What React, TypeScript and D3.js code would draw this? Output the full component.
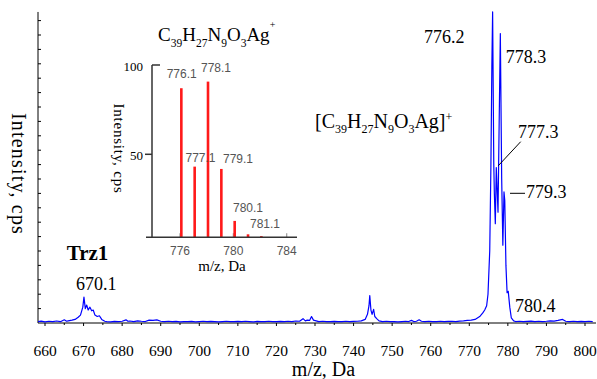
import * as d3 from "d3";
import { useEffect, useRef } from "react";

// main ESI spectrum, [m/z, intensity] (intensity in y-tick units)
const spectrum: [number, number][] = [
  [658.2, 0.1], [659, 0.13], [660, 0.08], [661, 0.12], [662, 0.1], [663, 0.14], [664, 0.09],
  [665, 0.22], [665.6, 0.12], [666, 0.15], [667, 0.2], [667.8, 0.25], [668.6, 0.4], [669.2, 0.55],
  [669.8, 1.1], [670.1, 1.8], [670.45, 1.0], [670.8, 1.25], [671.2, 0.9], [671.65, 1.1],
  [672.1, 0.85], [672.5, 0.9], [672.95, 0.55], [673.55, 0.45], [674.1, 0.5], [674.7, 0.25],
  [675.5, 0.12], [676, 0.1], [677, 0.08], [678, 0.11], [679, 0.1], [680, 0.12], [681, 0.22],
  [681.5, 0.12], [682, 0.14], [683, 0.1], [684, 0.15], [685, 0.12], [686, 0.1], [687, 0.2],
  [688, 0.18], [689, 0.22], [690, 0.12], [691, 0.1], [692, 0.12], [693, 0.09], [694, 0.11],
  [695, 0.08], [696, 0.1], [697, 0.09], [698, 0.11], [699, 0.08], [700, 0.1], [701, 0.12],
  [702, 0.09], [703, 0.11], [704, 0.1], [705, 0.08], [706, 0.1], [707, 0.12], [708, 0.09],
  [709, 0.1], [710, 0.11], [711, 0.09], [712, 0.12], [713, 0.1], [714, 0.08], [715, 0.11],
  [716, 0.09], [717, 0.1], [718, 0.12], [719, 0.1], [720, 0.09], [721, 0.11], [722, 0.1],
  [723, 0.12], [724, 0.1], [725, 0.14], [726, 0.12], [726.9, 0.3], [727.5, 0.15], [728, 0.2],
  [728.6, 0.18], [729.1, 0.45], [729.6, 0.2], [730.3, 0.15], [731, 0.1], [732, 0.12], [733, 0.09],
  [734, 0.1], [735, 0.11], [736, 0.09], [737, 0.1], [738, 0.12], [739, 0.1], [740, 0.11],
  [741, 0.12], [742, 0.15], [743, 0.25], [743.6, 0.6], [744.0, 1.2], [744.2, 1.9], [744.5, 0.9],
  [744.8, 0.6], [745.2, 0.95], [745.5, 0.45], [746, 0.3], [746.6, 0.15], [747.5, 0.1],
  [748.5, 0.12], [749.5, 0.09], [750.5, 0.1], [751.5, 0.08], [752.5, 0.1], [753.5, 0.12],
  [754.3, 0.1], [755, 0.18], [755.6, 0.1], [756.3, 0.12], [757, 0.22], [757.6, 0.12],
  [758.5, 0.1], [759.5, 0.12], [760.5, 0.09], [761.5, 0.1], [762.5, 0.12], [763.5, 0.1],
  [764.5, 0.11], [765.5, 0.12], [766.5, 0.1], [767.5, 0.13], [768.5, 0.15], [769.5, 0.18],
  [770.5, 0.2], [771.5, 0.25], [772.7, 0.45], [773.5, 0.7], [774.0, 0.9], [774.5, 1.2],
  [774.85, 2.0], [775.3, 5.0], [775.6, 10.8], [775.85, 17.8], [776.05, 21.6], [776.35, 11],
  [776.5, 9.0], [776.75, 6.9], [777.0, 10.8], [777.45, 7.7], [777.75, 14], [778.05, 20.1],
  [778.4, 10], [778.7, 5.4], [779.0, 9.1], [779.2, 8.5], [779.5, 4], [779.8, 2.1], [780.1, 2.2],
  [780.5, 1.1], [780.9, 0.35], [781.5, 0.15], [782, 0.1], [783, 0.12], [784, 0.09], [785, 0.11],
  [786, 0.13], [787, 0.1], [788, 0.12], [789, 0.1], [790, 0.12], [791, 0.15], [792, 0.13],
  [793, 0.18], [794.2, 0.25], [795, 0.12], [796, 0.1], [797, 0.12], [798, 0.09], [799, 0.11],
  [800, 0.1], [801, 0.12], [802, 0.1],
];

const xTicks = [660, 670, 680, 690, 700, 710, 720, 730, 740, 750, 760, 770, 780, 790, 800];

// simulated isotope pattern (inset)
const isoMz = [776.1, 777.1, 778.1, 779.1, 780.1, 781.1, 782.1];
const isoIntensity = [87, 43.1, 90.7, 41.8, 12.7, 5.2, 4.2];
const isoLabels = ["776.1", "777.1", "778.1", "779.1", "780.1", "781.1"];
const insetXTicks = [776, 780, 784];
const insetYTicks = [50, 100];

const peakLabels = ["776.2", "778.3", "777.3", "779.3", "780.4", "670.1"];

const SERIF = "'Liberation Serif', 'Times New Roman', serif";
const SANS = "'Liberation Sans', Arial, sans-serif";

type Part = { t: string; s?: "sub" | "sup" };
const formulaParts: Part[] = [
  { t: "C" }, { t: "39", s: "sub" }, { t: "H" }, { t: "27", s: "sub" }, { t: "N" },
  { t: "9", s: "sub" }, { t: "O" }, { t: "3", s: "sub" }, { t: "Ag" },
];

function drawFormula(
  g: d3.Selection<SVGGElement, unknown, null, undefined>,
  x: number,
  y: number,
  size: number,
  parts: Part[],
  sub: [number, number],
  sup: [number, number]
) {
  const text = g
    .append("text")
    .attr("x", x)
    .attr("y", y)
    .style("font-family", SERIF)
    .style("font-size", `${size}px`)
    .style("fill", "#000");
  let cur = 0;
  parts.forEach((p) => {
    const shift = p.s === "sub" ? sub[1] : p.s === "sup" ? -sup[1] : 0;
    const fs = p.s === "sub" ? sub[0] : p.s === "sup" ? sup[0] : size;
    text
      .append("tspan")
      .attr("dy", shift - cur)
      .style("font-size", `${fs}px`)
      .text(p.t);
    cur = shift;
  });
}

export default function App() {
  const ref = useRef<SVGSVGElement>(null);

  useEffect(() => {
    if (!ref.current) return;
    const svg = d3.select(ref.current);
    svg.selectAll("*").remove();

    const g = svg.append("g");

    // ---- main plot
    const x = d3.scaleLinear().domain([660, 800]).range([45, 585]);
    const y = d3.scaleLinear().domain([0, 21.6]).range([323, 11.96]);

    g.append("line")
      .attr("x1", 38).attr("x2", 38)
      .attr("y1", y(21.6)).attr("y2", y(0))
      .attr("stroke", "#000").attr("stroke-width", 1);
    g.append("line")
      .attr("x1", 38).attr("x2", 596)
      .attr("y1", y(0)).attr("y2", y(0))
      .attr("stroke", "#000").attr("stroke-width", 1);

    g.selectAll(".ytick")
      .data(d3.range(1, 22))
      .join("line")
      .attr("x1", 38).attr("x2", 41)
      .attr("y1", (d) => y(d)).attr("y2", (d) => y(d))
      .attr("stroke", "#000").attr("stroke-width", 1);

    const minor = d3.range(665, 800, 10);
    g.selectAll(".xminor")
      .data(minor)
      .join("line")
      .attr("x1", (d) => x(d)).attr("x2", (d) => x(d))
      .attr("y1", y(0)).attr("y2", y(0) + 2)
      .attr("stroke", "#000").attr("stroke-width", 1);
    g.selectAll(".xmajor")
      .data(xTicks)
      .join("line")
      .attr("x1", (d) => x(d)).attr("x2", (d) => x(d))
      .attr("y1", y(0)).attr("y2", y(0) + 3)
      .attr("stroke", "#000").attr("stroke-width", 1);

    g.selectAll(".xlabel")
      .data(xTicks)
      .join("text")
      .attr("x", (d) => x(d))
      .attr("y", 355.5)
      .attr("text-anchor", "middle")
      .style("font-family", SERIF)
      .style("font-size", "15.5px")
      .text((d) => d);

    g.append("text")
      .attr("x", 323.5).attr("y", 375.5)
      .attr("text-anchor", "middle")
      .style("font-family", SERIF).style("font-size", "20px")
      .text("m/z, Da");

    g.append("text")
      .attr("transform", "translate(11.7,174) rotate(90)")
      .attr("text-anchor", "middle")
      .style("font-family", SERIF).style("font-size", "20px")
      .style("letter-spacing", "1.2px")
      .text("Intensity, cps");

    const line = d3
      .line<[number, number]>()
      .x((d) => x(d[0]))
      .y((d) => y(d[1]));
    g.append("path")
      .datum(spectrum)
      .attr("d", line)
      .attr("fill", "none")
      .attr("stroke", "#0000ff")
      .attr("stroke-width", 1.2)
      .attr("stroke-linejoin", "round");

    // peak annotations
    const labelPos: [number, number][] = [
      [424, 43.3], [505.7, 63.3], [518, 138.3], [526, 198.3], [515, 311.7], [76, 290],
    ];
    g.selectAll(".plabel")
      .data(peakLabels)
      .join("text")
      .attr("x", (_, i) => labelPos[i][0])
      .attr("y", (_, i) => labelPos[i][1])
      .style("font-family", SERIF)
      .style("font-size", "18px")
      .text((d) => d);
    g.append("line")
      .attr("x1", 520.7).attr("y1", 141.7).attr("x2", 498.3).attr("y2", 165.7)
      .attr("stroke", "#000").attr("stroke-width", 1);
    g.append("line")
      .attr("x1", 510).attr("y1", 193.3).attr("x2", 525).attr("y2", 193.3)
      .attr("stroke", "#000").attr("stroke-width", 1);

    g.append("text")
      .attr("x", 66.7).attr("y", 260)
      .style("font-family", SERIF).style("font-size", "21px").style("font-weight", "bold")
      .text("Trz1");

    drawFormula(
      g, 315, 128.3, 20,
      [{ t: "[" }, ...formulaParts, { t: "]" }, { t: "+", s: "sup" }],
      [12, 5], [12, 7]
    );

    // ---- inset: isotope pattern
    const xi = d3.scaleLinear().domain([776, 784]).range([180, 286.7]);
    const yi = d3.scaleLinear().domain([50, 100]).range([154.3, 65]);
    const base = 237.3;

    drawFormula(g, 158, 40.7, 19, [...formulaParts, { t: "+", s: "sup" }], [11.5, 6], [10, 13]);

    g.selectAll(".itick")
      .data(insetXTicks)
      .join("line")
      .attr("x1", (d) => xi(d)).attr("x2", (d) => xi(d))
      .attr("y1", base - 4).attr("y2", base)
      .attr("stroke", "#999").attr("stroke-width", 1.2);

    g.selectAll(".bar")
      .data(isoMz)
      .join("rect")
      .attr("x", (d) => xi(d) - 1.3)
      .attr("width", 2.6)
      .attr("y", (_, i) => yi(isoIntensity[i]))
      .attr("height", (_, i) => base - yi(isoIntensity[i]))
      .attr("fill", "#ff1a1a");

    g.append("line")
      .attr("x1", 146).attr("x2", 297).attr("y1", base).attr("y2", base)
      .attr("stroke", "#333").attr("stroke-width", 1.5);
    g.append("line")
      .attr("x1", 152).attr("x2", 152).attr("y1", yi(100)).attr("y2", base)
      .attr("stroke", "#333").attr("stroke-width", 1.5);
    g.append("line")
      .attr("x1", 152).attr("x2", 160).attr("y1", yi(100)).attr("y2", yi(100))
      .attr("stroke", "#333").attr("stroke-width", 1.5);
    g.append("line")
      .attr("x1", 145).attr("x2", 152).attr("y1", yi(50)).attr("y2", yi(50))
      .attr("stroke", "#333").attr("stroke-width", 1.5);

    g.selectAll(".iylabel")
      .data(insetYTicks)
      .join("text")
      .attr("x", 143)
      .attr("y", (d) => yi(d) + 5.5)
      .attr("text-anchor", "end")
      .style("font-family", SERIF)
      .style("font-size", "13px")
      .text((d) => d);

    g.selectAll(".ixlabel")
      .data(insetXTicks)
      .join("text")
      .attr("x", (d) => xi(d))
      .attr("y", 255)
      .attr("text-anchor", "middle")
      .style("font-family", SANS)
      .style("font-size", "12px")
      .style("fill", "#555")
      .text((d) => d);

    const isoPos: [number, number][] = [
      [181.7, 78], [200.5, 162], [216, 72], [238, 163], [248, 212], [265, 228],
    ];
    g.selectAll(".isolabel")
      .data(isoLabels)
      .join("text")
      .attr("x", (_, i) => isoPos[i][0])
      .attr("y", (_, i) => isoPos[i][1])
      .attr("text-anchor", "middle")
      .style("font-family", SANS)
      .style("font-size", "12px")
      .style("fill", "#555")
      .text((d) => d);

    g.append("text")
      .attr("x", 222).attr("y", 270.5)
      .attr("text-anchor", "middle")
      .style("font-family", SERIF).style("font-size", "15px")
      .text("m/z, Da");

    g.append("text")
      .attr("transform", "translate(114,148.5) rotate(90)")
      .attr("text-anchor", "middle")
      .style("font-family", SERIF).style("font-size", "15px")
      .style("letter-spacing", "0.8px")
      .text("Intensity, cps");
  }, []);

  return (
    <svg
      ref={ref}
      width={597}
      height={379}
      style={{ position: "absolute", left: 0, top: 0, background: "#fff" }}
    />
  );
}
